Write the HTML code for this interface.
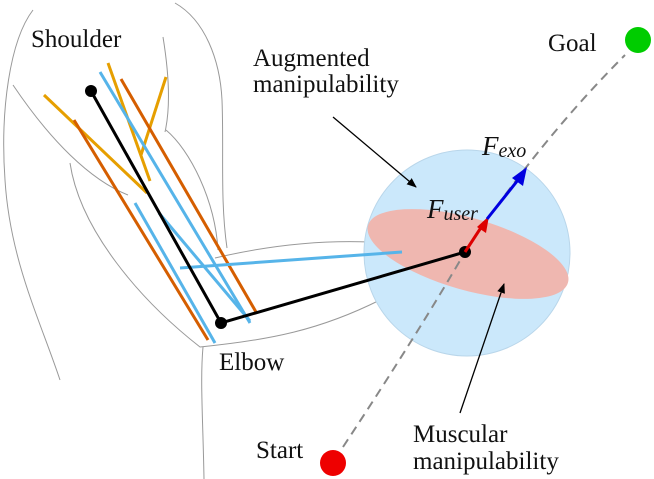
<!DOCTYPE html>
<html><head><style>
html,body{margin:0;padding:0;background:#fff;}
svg{display:block;}
text{font-family:"Liberation Serif",serif;font-size:25px;fill:#111;}
</style></head><body>
<svg width="654" height="479" viewBox="0 0 654 479" xmlns="http://www.w3.org/2000/svg">
<defs>
<marker id="ab" markerWidth="10" markerHeight="8" refX="9" refY="4" orient="auto" markerUnits="userSpaceOnUse"><path d="M0,0 L10,4 L0,8 Z" fill="#000"/></marker>
</defs>
<g fill="none" stroke="#999" stroke-width="1">
<path d="M33,10 C10,40 0,110 5,180 C10,260 40,320 60,380"/>
<path d="M175,3 C205,20 220,60 222,100 C224,150 220,200 227,248"/>
<path d="M163,37 C170,80 170,110 165,132"/>
<path d="M13,85 C50,140 90,180 128,195"/>
<path d="M166,130 C190,150 215,200 218,250"/>
<path d="M70,163 C80,230 140,300 200,347 C270,340 320,330 380,300"/>
<path d="M215,258 C270,245 320,240 370,242"/>
<path d="M203,347 C200,380 203,420 204,479"/>
</g>
<circle cx="467" cy="253" r="103" fill="#cbe8fb" stroke="#b9d6ea" stroke-width="1"/>
<ellipse cx="468" cy="254" rx="104" ry="36" transform="rotate(16 468 254)" fill="#efb7b0"/>
<path d="M343,447 Q420,330 465,252 Q540,140 625,55" fill="none" stroke="#888" stroke-width="2" stroke-dasharray="9,6"/>
<g stroke-width="3" fill="none">
<line x1="44" y1="95" x2="147" y2="193" stroke="#e69f00"/>
<line x1="108" y1="63" x2="150" y2="181" stroke="#e69f00"/>
<line x1="166" y1="77" x2="141" y2="155" stroke="#e69f00"/>
<line x1="74" y1="120" x2="208" y2="340" stroke="#d55e00"/>
<line x1="121" y1="79" x2="256" y2="312" stroke="#d55e00"/>
<line x1="100" y1="72" x2="250" y2="323" stroke="#56b4e9"/>
<line x1="135" y1="203" x2="215" y2="343" stroke="#56b4e9"/>
<line x1="159" y1="213" x2="250" y2="321" stroke="#56b4e9"/>
<line x1="180" y1="268" x2="402" y2="252" stroke="#56b4e9"/>
<polyline points="91,91 221,323 465,252" stroke="#000"/>
</g>
<circle cx="91" cy="91" r="6" fill="#000"/>
<circle cx="221" cy="323" r="6" fill="#000"/>
<circle cx="465" cy="252" r="6" fill="#000"/>
<line x1="465" y1="252" x2="482" y2="226" stroke="#d00" stroke-width="3"/>
<path d="M489,216 L486,233 L477,227 Z" fill="#d00"/>
<line x1="487" y1="219" x2="518" y2="180" stroke="#0000e0" stroke-width="3"/>
<path d="M527,167 L523,186 L512,178 Z" fill="#0000e0"/>
<line x1="333" y1="117" x2="416" y2="187" stroke="#000" stroke-width="1.3" marker-end="url(#ab)"/>
<line x1="460" y1="413" x2="504" y2="284" stroke="#000" stroke-width="1.3" marker-end="url(#ab)"/>
<circle cx="333" cy="463" r="13" fill="#e00"/>
<circle cx="638" cy="40" r="13" fill="#00cc00"/>
<text x="31" y="47">Shoulder</text>
<text x="253" y="66">Augmented</text>
<text x="253" y="92">manipulability</text>
<text x="548" y="51">Goal</text>
<text x="219" y="370">Elbow</text>
<text x="256" y="458">Start</text>
<text x="413" y="442">Muscular</text>
<text x="413" y="469">manipulability</text>
<text x="427" y="218" style="font-style:italic;font-size:27px">F<tspan font-size="20" dy="2">user</tspan></text>
<text x="482" y="155" style="font-style:italic;font-size:27px">F<tspan font-size="20" dy="2">exo</tspan></text>
</svg>
</body></html>
